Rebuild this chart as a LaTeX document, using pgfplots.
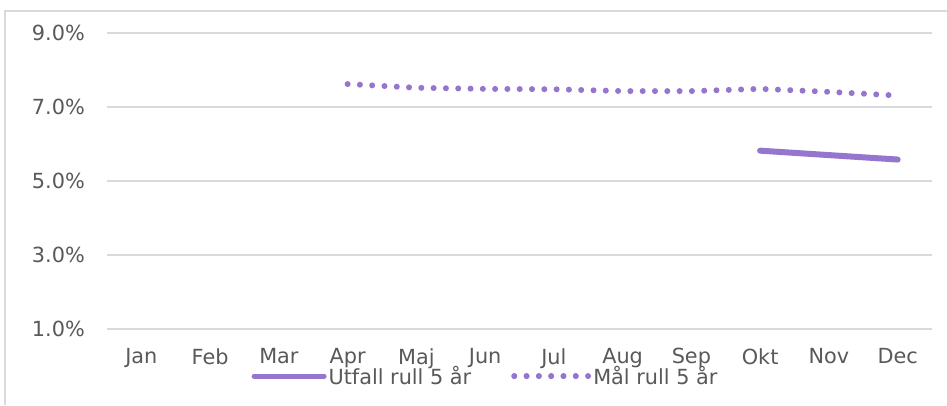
\documentclass[border=0pt]{standalone}
\usepackage{pgfplots}
\pgfplotsset{compat=1.18}
\usepackage{fontspec}
\setmainfont{DejaVu Sans}
\definecolor{txt}{HTML}{595959}
\definecolor{grd}{HTML}{D9D9D9}
\definecolor{purp}{RGB}{149,117,205}
\begin{document}
\begin{tikzpicture}[x=1pt,y=1pt]
\useasboundingbox (0,0) rectangle (947,405);
\fill[white] (0,0) rectangle (947,405);
\draw[grd, line width=1.5pt] (5,0) -- (5,394) -- (947,394);
\begin{axis}[
  at={(107pt,76pt)}, anchor=south west,
  scale only axis, width=825pt, height=296pt,
  xmin=0.5, xmax=12.5, ymin=1, ymax=9,
  axis line style={draw=none},
  major tick length=0pt,
  xtick={1,...,12},
  xticklabels={Jan,Feb,Mar,Apr,Maj,Jun,Jul,Aug,Sep,Okt,Nov,Dec},
  ytick={1,3,5,7,9},
  yticklabels={1.0\%,3.0\%,5.0\%,7.0\%,9.0\%},
  ymajorgrids, grid style={grd, line width=1.5pt},
  tick label style={font=\fontsize{20.8}{24}\selectfont, text=txt, inner sep=0pt},
  xticklabel style={anchor=north, yshift=-19pt},
  yticklabel style={anchor=east, xshift=-22pt},
  legend columns=2,
  legend style={at={(0.4588,-0.159)}, anchor=center, draw=none, fill=none,
    font=\fontsize{20.8}{24}\selectfont, text=txt,
    /tikz/every even column/.append style={column sep=38pt},
    inner sep=0pt},
  legend cell align=left,
]
\addplot[purp, line width=6pt, line cap=round,
  legend image code/.code={\draw[purp, line width=5pt, line cap=round] (0pt,0pt) -- (70pt,0pt);}]
  coordinates {(10,5.82) (11,5.70) (12,5.58)};
\addlegendentry{Utfall rull 5 år}
\addplot[purp, line width=6pt, line cap=round, dash pattern=on 0pt off 12.3pt,
  legend image code/.code={\path (0pt,0pt) -- (74pt,0pt);\draw[purp, line width=5.5pt, line cap=round, dash pattern=on 0pt off 12.3pt] (0pt,0pt) -- (64pt,0pt);}]
  coordinates {(4,7.62) (5,7.52) (6,7.49) (7,7.48) (8,7.43) (9,7.43) (10,7.49) (11,7.41) (12,7.31)};
\addlegendentry{Mål rull 5 år}
\end{axis}
\end{tikzpicture}
\end{document}
